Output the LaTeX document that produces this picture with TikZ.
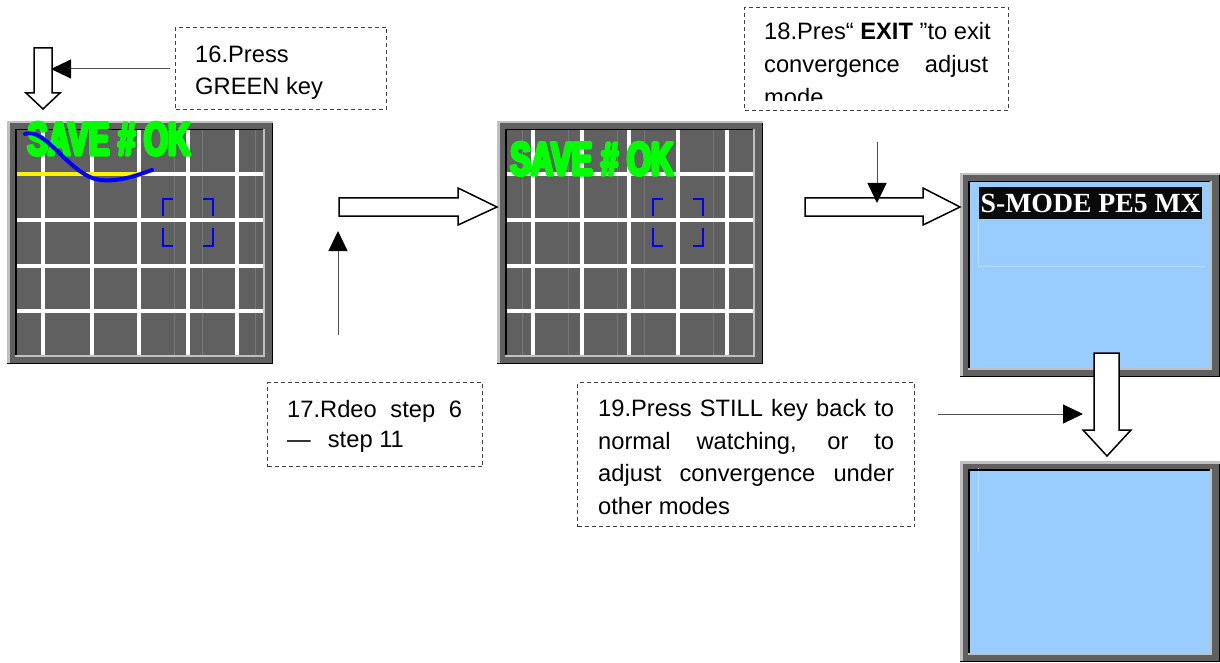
\documentclass[tikz,border=0pt]{standalone}
\usepackage{fontspec}
\usepackage{graphicx}
\setmainfont{Liberation Sans}
\newfontfamily\labelserif{Liberation Serif}
\newfontfamily\savefont{Liberation Sans}[FakeStretch=0.66,FakeBold=7]
\usetikzlibrary{arrows.meta}
\definecolor{scrgray}{HTML}{606060}
\definecolor{bevel}{HTML}{C0C0C0}
\definecolor{faint}{HTML}{767676}
\definecolor{lcdblue}{HTML}{99CCFF}
\definecolor{lcdfaint}{HTML}{B8DCFF}
\definecolor{okgreen}{HTML}{00FF00}
\definecolor{boxline}{HTML}{404040}
\definecolor{ptrline}{HTML}{505050}
\definecolor{labelblack}{HTML}{0A0A0A}

\tikzset{
 notebox/.style={draw=boxline, line width=1pt, dash pattern=on 4pt off 3pt, inner sep=0pt, anchor=north west},
 txt/.style={inner sep=0pt, anchor=base west, font=\fontsize{23.7}{32}\selectfont},
 hollow/.style={draw=black, fill=white, line width=1.5pt, line join=miter},
 pointer/.style={draw=ptrline, line width=1pt, -{Triangle[length=20pt,width=19pt,color=black]}},
 gridline/.style={white, line width=4.5pt},
 faintline/.style={faint, line width=0.8pt},
 bracket/.style={blue, line width=2.6pt},
 savetxt/.style={inner sep=0pt, anchor=base west, text=okgreen, line join=round, font=\savefont\bfseries\fontsize{47}{50}\selectfont},
}

\newcommand\tvback[5]{%
 \begin{scope}[shift={(#1,#2)}]
  \fill[scrgray] (0,0) rectangle (#3,#4);
  \fill[#5] (8,8) rectangle ({#3-8},{#4-7});
 \end{scope}}
\newcommand\tvedges[4]{%
 \begin{scope}[shift={(#1,#2)}]
  \draw[bevel,line width=2.5pt] (1.25,#4) -- (1.25,1.25) -- (#3,1.25);
  \draw[black,line width=1pt] (0,{#4-0.5}) -- (#3,{#4-0.5});
  \draw[black,line width=1pt] ({#3-0.5},2.5) -- ({#3-0.5},#4);
  \draw[black,line width=1.5pt] (8.75,{#4-7}) -- (8.75,8.75) -- ({#3-8},8.75);
  \draw[bevel,line width=2.5pt] (8,{#4-8.25}) -- ({#3-9.25},{#4-8.25}) -- ({#3-9.25},8);
 \end{scope}}
\newcommand\gridcontent[3]{%
 \begin{scope}[shift={(#1,#2)}]
  \foreach \x in {#3} \draw[faintline] (\x,8) -- (\x,235);
  \foreach \x in {36,85,132,181,230} \draw[gridline] (\x,8) -- (\x,235);
  \foreach \y in {53,99,145,190} \draw[gridline] (8,\y) -- (257,\y);
  \draw[bracket] (156,95) -- (156,78) -- (166,78);
  \draw[bracket] (196,78) -- (206,78) -- (206,95);
  \draw[bracket] (156,107) -- (156,125) -- (166,125);
  \draw[bracket] (196,125) -- (206,125) -- (206,107);
 \end{scope}}

\begin{document}
\begin{tikzpicture}[x=1pt,y=-1pt]
\useasboundingbox (0,0) rectangle (1220,663);

% ---------- screen 1 ----------
\tvback{7}{121}{266}{243}{scrgray}
\gridcontent{7}{121}{167,195,248}
\draw[yellow,line width=4.5pt] (15,174) -- (138,174);
\tvedges{7}{121}{266}{243}
\node[savetxt] (save1) at (27,155) {SAVE \# OK};
\draw[blue,line width=4pt,line cap=round] (25,134) .. controls (45,126) and (70,176) .. (100,180) .. controls (120,182) and (138,175) .. (152,170);

% ---------- screen 2 ----------
\tvback{497}{121}{266}{243}{scrgray}
\gridcontent{497}{121}{25,71,120,147,216}
\tvedges{497}{121}{266}{243}
\node[savetxt] (save2) at (510,175) {SAVE \# OK};

% ---------- screen 3 ----------
\tvback{960}{173}{260}{204}{lcdblue}
\draw[lcdfaint,line width=0.8pt] (978,220) -- (978,266) -- (1205,266);
\tvedges{960}{173}{260}{204}
\node[fill=labelblack, text=white, inner sep=0pt, minimum width=223pt, minimum height=32pt, anchor=north west,
      font=\labelserif\bfseries\fontsize{27.7}{30}\selectfont] (lbl) at (979,187) {S-MODE PE5 MX};

% ---------- screen 4 ----------
\tvback{960}{461}{260}{201}{lcdblue}
\draw[lcdfaint,line width=0.8pt] (978,468) -- (978,552);
\tvedges{960}{461}{260}{201}

% ---------- hollow arrows ----------
\draw[hollow] (34,48) -- (52,48) -- (52,93) -- (60,93) -- (43,109) -- (26,93) -- (34,93) -- cycle;
\draw[hollow] (339,198) -- (458,198) -- (458,188) -- (497,207) -- (458,225) -- (458,216) -- (339,216) -- cycle;
\draw[hollow] (805,198) -- (923,198) -- (923,188) -- (960,207) -- (923,225) -- (923,216) -- (805,216) -- cycle;
\draw[hollow] (1094,353) -- (1119,353) -- (1119,430) -- (1131,430) -- (1107,456) -- (1083,430) -- (1094,430) -- cycle;

% ---------- note boxes ----------
\node[notebox, minimum width=211pt, minimum height=82pt] (box16) at (175,27) {};
\node[txt] (t16a) at (195,63) {16.Press};
\node[txt] (t16b) at (195,95) {GREEN key};

\node[notebox, minimum width=215pt, minimum height=84pt] (box17) at (267,382) {};
\node[txt] (t17a) at (287,417) {\makebox[175pt][s]{17.Rdeo step 6}};
\node[txt] (t17b) at (287,447) {—\hspace{17pt}step 11};

\node[notebox, minimum width=264pt, minimum height=103pt] (box18) at (744,7) {};
\node[txt] (t18a) at (764,40) {18.Pres“ \textbf{EXIT} ”to exit};
\node[txt] (t18b) at (764,73) {\makebox[224pt][s]{convergence adjust}};
\begin{scope}
 \clip (744,7) rectangle (1008,101);
 \node[txt] (t18c) at (764,106) {mode};
\end{scope}

\node[notebox, minimum width=337pt, minimum height=144pt] (box19) at (577,382) {};
\node[txt] (t19a) at (598,416) {\makebox[296pt][s]{19.Press STILL key back to}};
\node[txt] (t19b) at (598,449) {\makebox[296pt][s]{normal watching, or to}};
\node[txt] (t19c) at (598,481) {\makebox[296pt][s]{adjust convergence under}};
\node[txt] (t19d) at (598,514) {other modes};

% ---------- pointers ----------
\coordinate (p16s) at (170,69);  \coordinate (p16e) at (51,69);
\coordinate (p17s) at (338,335); \coordinate (p17e) at (338,231);
\coordinate (p18s) at (877,142); \coordinate (p18e) at (877,203);
\coordinate (p19s) at (938,414); \coordinate (p19e) at (1083,414);
\draw[pointer] (p16s) -- (p16e);
\draw[pointer] (p17s) -- (p17e);
\draw[pointer] (p18s) -- (p18e);
\draw[pointer] (p19s) -- (p19e);
\end{tikzpicture}
\end{document}
